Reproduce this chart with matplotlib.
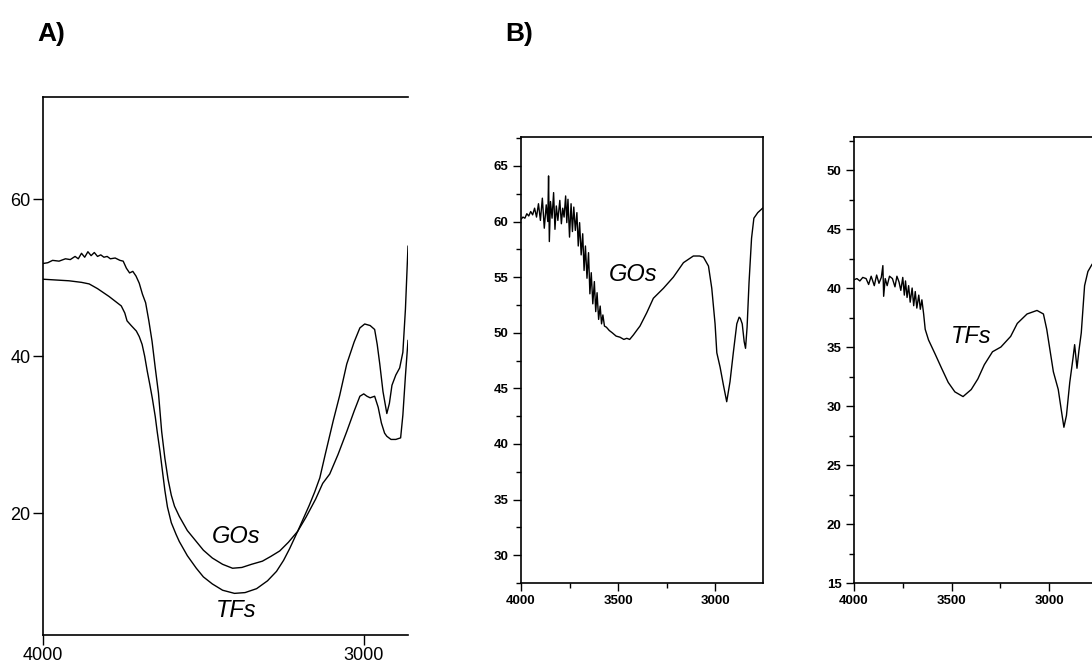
import matplotlib.pyplot as plt
from matplotlib.ticker import MultipleLocator

# --- Panel A: GOs and TFs overlaid (wavenumber, transmittance) ---
gos_a_x = [4000, 3985, 3970, 3950, 3930, 3915, 3900, 3890, 3880, 3870, 3860, 3850, 3840,
           3830, 3820, 3810, 3800, 3790, 3775, 3760, 3750, 3740, 3730, 3720, 3710, 3700,
           3690, 3680, 3670, 3660, 3650, 3640, 3630, 3620, 3610, 3600, 3590, 3575, 3550,
           3522, 3500, 3472, 3440, 3409, 3380, 3350, 3316, 3290, 3262, 3235, 3206, 3180,
           3150, 3128, 3106, 3080, 3053, 3030, 3012, 3000, 2990, 2980, 2966, 2955, 2945,
           2935, 2928, 2915, 2900, 2885, 2878, 2870, 2862]
gos_a_y = [51.8, 51.9, 52.2, 52.1, 52.4, 52.3, 52.7, 52.4, 53.1, 52.6, 53.3, 52.8, 53.2,
           52.7, 52.9, 52.6, 52.7, 52.4, 52.5, 52.2, 52.1, 51.2, 50.6, 50.8, 50.2, 49.3,
           47.9, 46.8, 44.5, 41.9, 38.5, 35.3, 30.4, 27.0, 24.3, 22.3, 20.9, 19.6, 17.8,
           16.4, 15.3, 14.3, 13.5, 13.0, 13.1, 13.5, 13.9, 14.5, 15.2, 16.3, 17.7, 19.5,
           21.8, 23.8, 25.0, 27.5, 30.4, 33.0, 34.9, 35.2, 34.9, 34.7, 34.9, 33.5, 31.5,
           30.2, 29.8, 29.4, 29.4, 29.6, 32.5, 37.5, 42.0]

tfs_a_x = [4000, 3960, 3919, 3880, 3856, 3830, 3794, 3775, 3756, 3745, 3738, 3725, 3709,
           3700, 3691, 3683, 3675, 3667, 3659, 3650, 3644, 3635, 3628, 3620, 3612, 3600,
           3585, 3575, 3550, 3522, 3500, 3472, 3440, 3403, 3370, 3334, 3300, 3272, 3250,
           3231, 3206, 3170, 3153, 3137, 3120, 3095, 3075, 3053, 3030, 3012, 2997, 2980,
           2966, 2958, 2950, 2940, 2928, 2920, 2912, 2900, 2888, 2878, 2870, 2862]
tfs_a_y = [49.8, 49.7, 49.6, 49.4, 49.2, 48.6, 47.6, 47.0, 46.4, 45.5, 44.5, 43.9, 43.2,
           42.5, 41.5, 40.0, 38.1, 36.4, 34.6, 32.3, 30.4, 27.8, 25.5, 22.9, 20.8, 18.8,
           17.3, 16.4, 14.6, 13.0, 11.9, 11.0, 10.2, 9.8, 9.9, 10.4, 11.4, 12.6, 14.0,
           15.5, 17.7, 21.0, 22.7, 24.5, 27.5, 31.8, 35.0, 39.0, 41.8, 43.6, 44.1, 43.9,
           43.4, 41.5, 39.0, 35.5, 32.7, 34.0, 36.3, 37.6, 38.5, 40.5, 46.0, 54.0]

# --- Panel B (left): GOs ---
gos_b_x = [4000, 3990, 3980, 3970, 3960, 3950, 3940, 3930, 3920, 3910, 3900, 3890, 3880,
           3870, 3862, 3858, 3854, 3848, 3840, 3832, 3825, 3818, 3810, 3800, 3792, 3785,
           3778, 3770, 3764, 3758, 3750, 3742, 3735, 3728, 3720, 3712, 3705, 3698, 3690,
           3682, 3675, 3668, 3660, 3652, 3645, 3638, 3630, 3622, 3615, 3608, 3600, 3592,
           3585, 3578, 3570, 3560, 3545, 3530, 3510, 3490, 3470, 3455, 3440, 3421, 3400,
           3387, 3352, 3318, 3266, 3215, 3163, 3112, 3080, 3060, 3034, 3017, 3000, 2991,
           2974, 2957, 2940, 2923, 2906, 2888, 2876, 2870, 2860, 2850, 2843, 2835, 2825,
           2812, 2800, 2780, 2755]
gos_b_y = [60.2, 60.4, 60.3, 60.7, 60.5, 60.9, 60.6, 61.2, 60.4, 61.6, 60.1, 62.1, 59.4,
           61.5, 60.0, 64.1, 58.2, 61.8, 60.3, 62.6, 59.3, 61.4, 60.1, 61.9, 59.8, 61.2,
           60.4, 62.3, 59.9, 62.0, 58.6, 61.6, 59.1, 61.3, 59.2, 60.8, 57.8, 59.9, 57.0,
           58.9, 55.6, 57.8, 54.9, 57.2, 53.5, 55.4, 52.6, 54.6, 51.9, 53.6, 51.2, 52.4,
           50.8, 51.6, 50.6, 50.5, 50.2, 50.0, 49.7, 49.6, 49.4, 49.5, 49.4, 49.8, 50.3,
           50.6, 51.8, 53.1, 54.0, 55.0, 56.3, 56.9, 56.9, 56.8, 56.0, 54.0, 50.8, 48.2,
           46.9, 45.3, 43.8, 45.6, 48.2, 50.8, 51.4, 51.3, 50.8, 49.2, 48.6, 50.5, 54.5,
           58.5, 60.3, 60.8, 61.2]

# --- Panel B (right): TFs ---
tfs_b_x = [4000, 3985, 3970, 3955, 3938, 3925, 3912, 3896, 3884, 3872, 3860, 3852, 3848,
           3840, 3830, 3818, 3803, 3790, 3780, 3769, 3760, 3750, 3742, 3736, 3728, 3720,
           3712, 3702, 3694, 3686, 3678, 3668, 3660, 3652, 3643, 3635, 3618, 3584, 3551,
           3517, 3483, 3441, 3399, 3365, 3332, 3290, 3247, 3197, 3163, 3113, 3062, 3029,
           3012, 2995, 2978, 2953, 2936, 2924, 2911, 2894, 2877, 2869, 2857, 2847, 2835,
           2818, 2801, 2780]
tfs_b_y = [40.7, 40.8, 40.6, 40.9, 40.8, 40.3, 41.0, 40.2, 41.1, 40.4, 40.9, 41.9, 39.3,
           40.8, 40.2, 41.0, 40.8, 40.1, 41.0, 40.5, 39.8, 40.9, 39.4, 40.6, 39.2, 40.2,
           38.8, 40.0, 38.5, 39.7, 38.3, 39.4, 38.2, 39.0, 37.8, 36.5, 35.6, 34.4, 33.2,
           32.0, 31.2, 30.8, 31.4, 32.3, 33.5, 34.6, 35.0, 35.9, 37.0, 37.8, 38.1, 37.8,
           36.5, 34.7, 32.9, 31.4, 29.5, 28.2, 29.2, 32.0, 34.1, 35.2, 33.2, 34.7, 36.2,
           40.2, 41.4, 42.0]

W, H = 1092, 666
plt.rcParams['font.family'] = ['Liberation Sans', 'DejaVu Sans']
fig = plt.figure(figsize=(W / 100, H / 100), dpi=100)


def box(l, t, r, b):
    # pixel box -> figure fraction
    return [l / W, 1 - b / H, (r - l) / W, (b - t) / H]


# Panel A
axA = fig.add_axes(box(43, 97, 408, 635))
axA.plot(gos_a_x, gos_a_y, color='black', lw=1.0)
axA.plot(tfs_a_x, tfs_a_y, color='black', lw=1.0)
axA.set_xlim(4000, 2862)
axA.set_ylim(4.5, 73)
axA.set_xticks([4000, 3000])
axA.set_yticks([20, 40, 60])
axA.tick_params(direction='out', length=7, width=1.0, labelsize=13, pad=2)
axA.spines['right'].set_visible(False)
for s in axA.spines.values():
    s.set_linewidth(1.2)
axA.text(3397, 17.0, 'GOs', fontsize=17, style='italic', ha='center', va='center')
axA.text(3397, 7.6, 'TFs', fontsize=17, style='italic', ha='center', va='center')


def style_b(ax):
    ax.xaxis.set_major_locator(MultipleLocator(500))
    ax.xaxis.set_minor_locator(MultipleLocator(250))
    ax.yaxis.set_major_locator(MultipleLocator(5))
    ax.yaxis.set_minor_locator(MultipleLocator(2.5))
    ax.tick_params(which='major', direction='out', length=6, width=1.0, pad=3)
    ax.tick_params(which='minor', direction='out', length=3.5, width=1.0)
    for lab in ax.get_xticklabels() + ax.get_yticklabels():
        lab.set_fontweight('bold')
        lab.set_fontsize(9.5)
    for s in ax.spines.values():
        s.set_linewidth(1.2)


# Panel B left (GOs)
axB1 = fig.add_axes(box(521, 137, 763, 583))
axB1.plot(gos_b_x, gos_b_y, color='black', lw=1.0)
axB1.set_xlim(4000, 2753)
axB1.set_ylim(27.5, 67.6)
style_b(axB1)
axB1.text(3420, 55.2, 'GOs', fontsize=17, style='italic', ha='center', va='center')

# Panel B right (TFs), cut at the image edge
axB2 = fig.add_axes(box(854, 137, 1092, 583))
axB2.plot(tfs_b_x, tfs_b_y, color='black', lw=1.0)
axB2.set_xlim(4000, 2780)
axB2.set_ylim(15, 52.8)
axB2.spines['right'].set_visible(False)
style_b(axB2)
axB2.text(3400, 35.9, 'TFs', fontsize=17, style='italic', ha='center', va='center')

fig.text(37 / W, 1 - 34 / H, 'A)', fontsize=19, fontweight='bold', va='center')
fig.text(505 / W, 1 - 34 / H, 'B)', fontsize=19, fontweight='bold', va='center')

fig.savefig('out.png', dpi=100)
